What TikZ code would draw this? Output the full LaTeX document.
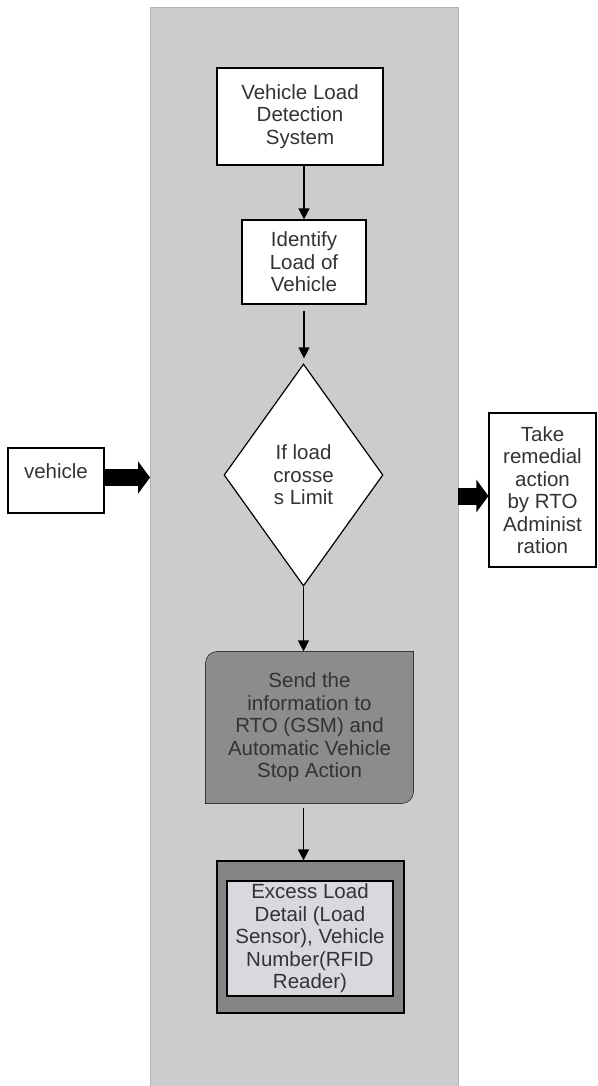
\documentclass[tikz,border=0pt]{standalone}
\usepackage{fontspec}
\setmainfont{Liberation Sans}
\usetikzlibrary{shapes.geometric, arrows.meta, backgrounds}
\definecolor{lanegray}{gray}{0.80}
\definecolor{laneedge}{gray}{0.70}
\definecolor{sendgray}{gray}{0.55}
\definecolor{excessgray}{gray}{0.52}
\definecolor{innergray}{RGB}{216,216,222}
\definecolor{txtgray}{gray}{0.2}

\begin{document}
\begin{tikzpicture}[x=1pt, y=-1pt, line width=1.2pt, text=txtgray,
        font=\fontsize{20.5}{22.5}\selectfont,
        box/.style={rectangle, draw, fill=white, align=center, inner sep=0pt},
        flow/.style={-{Triangle[width=11pt, length=11pt]}, line width=1.3pt},
        fat/.style={-{Triangle[width=32pt, length=12pt]}, line width=17pt}]
        \useasboundingbox (0,0) rectangle (597,1086);
        \clip (0,0) rectangle (597,1086);

        % レーン（背景）
        \begin{scope}[on background layer]
            \node[draw=laneedge, fill=lanegray, minimum width=308pt, minimum height=1100pt, inner sep=0pt, anchor=north west] (lane) at (150,7) {};
        \end{scope}

        % ノードの定義
        \node[box, minimum width=166pt, minimum height=97pt] (vlds) at (300,116.5) {Vehicle Load\\Detection\\System};
        \node[box, minimum width=124pt, minimum height=84pt] (ident) at (304,262) {Identify\\Load of\\Vehicle};
        \node[diamond, draw, fill=white, align=center, inner sep=0pt, minimum width=159pt, minimum height=222pt] (lim) at (303.5,475) {If load\\crosse\\s Limit};
        \node[align=center, inner sep=0pt, minimum width=207pt, minimum height=151pt] (send) at (309.5,727.5) {Send the\\information to\\RTO (GSM) and\\Automatic Vehicle\\Stop Action};
        \node[draw, fill=excessgray, minimum width=187pt, minimum height=152pt] (exo) at (310.5,937) {};
        \node[box, fill=innergray, minimum width=166pt, minimum height=115pt] (exi) at (310,938.5) {Excess Load\\Detail (Load\\Sensor), Vehicle\\Number(RFID\\Reader)};
        \node[box, text depth=18pt, minimum width=96pt, minimum height=65pt] (veh) at (56,480.5) {vehicle};
        \node[box, minimum width=107pt, minimum height=154pt] (act) at (542.5,490) {Take\\remedial\\action\\by RTO\\Administ\\ration};

        % 角丸の箱
        \begin{scope}[on background layer]
            \draw[fill=sendgray] (send.west) [rounded corners=12pt] -- (send.north west) -- (send.north)
                [sharp corners] -- (send.north east) -- (send.east)
                [rounded corners=12pt] -- (send.south east) -- (send.south)
                [sharp corners] -- (send.south west) -- cycle;
        \end{scope}

        % 矢印の描画
        \draw[flow] (vlds.south -| ident.north) -- (ident.north);
        \draw[flow, shorten <=6pt, shorten >=5pt] (ident.south) -- (ident.south |- lim.north);
        \draw[flow] (lim.south) -- (lim.south |- send.north);
        \draw[flow, shorten <=4pt] (send.south -| lim.south) -- (lim.south |- exo.north);
        \draw[fat] ([yshift=3pt]veh.east) -- ([yshift=3pt]veh.east -| lane.west);
        \draw[fat] ([yshift=-6pt]act.west -| lane.east) -- ([yshift=-6pt]act.west);
\end{tikzpicture}
\end{document}
